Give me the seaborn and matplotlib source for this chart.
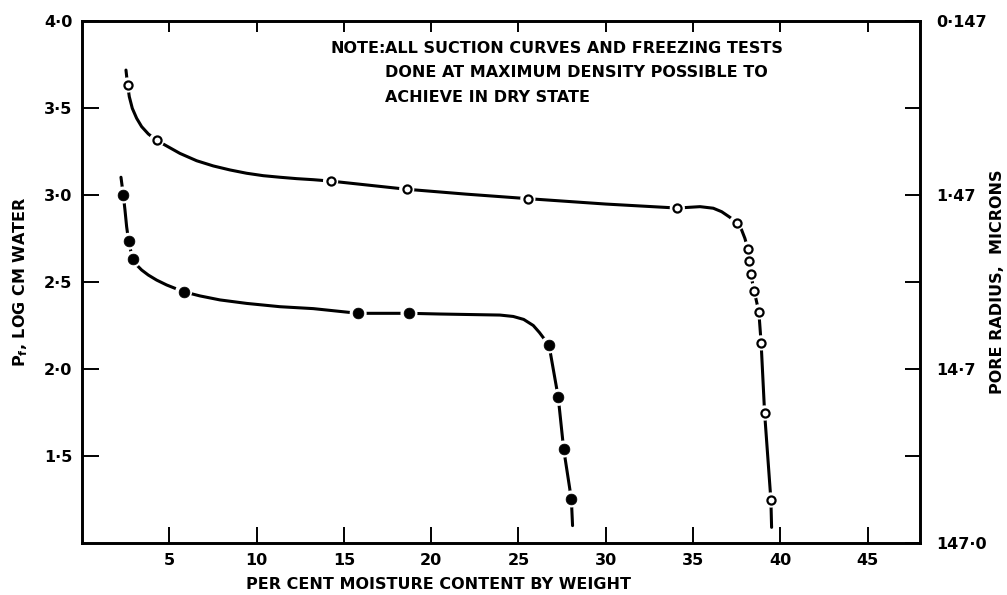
import seaborn as sns
import matplotlib.pyplot as plt
import pandas as pd

# traced curve (open circles, upper)
upper_x = [2.52, 2.615, 2.711, 2.883, 3.131, 3.417, 3.799, 4.277, 4.849, 5.613, 6.567, 7.522, 8.476,
           9.431, 10.386, 11.34, 12.295, 13.249, 14.24, 18.6, 22.0, 25.54, 30.0, 34.1, 35.4, 36.16,
           36.64, 37.11, 37.5, 37.78, 37.97, 38.14, 38.2, 38.3, 38.5, 38.77, 38.9, 39.1, 39.46, 39.5]
upper_y = [3.718, 3.632, 3.565, 3.498, 3.441, 3.393, 3.351, 3.314, 3.282, 3.239, 3.197, 3.167, 3.144,
           3.125, 3.111, 3.102, 3.094, 3.088, 3.08, 3.033, 3.005, 2.979, 2.948, 2.925, 2.933, 2.924,
           2.904, 2.872, 2.84, 2.80, 2.751, 2.69, 2.62, 2.546, 2.45, 2.328, 2.15, 1.747, 1.247, 1.09]
# measured points on upper curve
upper_pts_x = [2.615, 4.277, 14.24, 18.6, 25.54, 34.1, 37.5, 38.14, 38.2, 38.3, 38.5, 38.77, 38.9, 39.1, 39.46]
upper_pts_y = [3.632, 3.314, 3.08, 3.033, 2.979, 2.925, 2.84, 2.69, 2.62, 2.546, 2.45, 2.328, 2.15, 1.747, 1.247]

# traced curve (filled circles, lower)
lower_x = [2.234, 2.367, 2.463, 2.558, 2.673, 2.902, 3.131, 3.417, 3.799, 4.277, 4.849, 5.823, 6.758,
           7.904, 9.431, 11.34, 13.249, 15.82, 18.73, 20.5, 23.94, 24.7, 25.3, 25.85, 26.2, 26.5,
           26.75, 27.28, 27.59, 28.03, 28.1]
lower_y = [3.102, 3.0, 2.914, 2.818, 2.734, 2.63, 2.598, 2.569, 2.54, 2.511, 2.483, 2.444, 2.42,
           2.397, 2.377, 2.358, 2.347, 2.32, 2.32, 2.316, 2.31, 2.302, 2.285, 2.25, 2.21, 2.17,
           2.138, 1.837, 1.54, 1.253, 1.10]
lower_pts_x = [2.367, 2.673, 2.902, 5.823, 15.82, 18.73, 26.75, 27.28, 27.59, 28.03]
lower_pts_y = [3.0, 2.734, 2.63, 2.444, 2.32, 2.32, 2.138, 1.837, 1.54, 1.253]

x_ticks = [5, 10, 15, 20, 25, 30, 35, 40, 45]
y_ticks = [1.5, 2.0, 2.5, 3.0, 3.5, 4.0]
y_labels = ["1·5", "2·0", "2·5", "3·0", "3·5", "4·0"]
r_ticks = [1.0, 1.5, 2.0, 2.5, 3.0, 3.5, 4.0]
r_labels = ["147·0", "", "14·7", "", "1·47", "", "0·147"]

note_lines = ["ALL SUCTION CURVES AND FREEZING TESTS",
              "DONE AT MAXIMUM DENSITY POSSIBLE TO",
              "ACHIEVE IN DRY STATE"]

sns.set_style("ticks")
plt.rcParams["font.family"] = ["DejaVu Sans"]
plt.rcParams["font.weight"] = "bold"
for k in ["text.color", "axes.labelcolor", "xtick.color", "ytick.color", "axes.edgecolor"]:
    plt.rcParams[k] = "black"

fig = plt.figure(figsize=(10.07, 5.95), dpi=100)
ax = fig.add_axes([0.0814, 0.0874, 0.8322, 0.8773])

up = pd.DataFrame({"x": upper_x, "y": upper_y})
lo = pd.DataFrame({"x": lower_x, "y": lower_y})
sns.lineplot(data=up, x="x", y="y", sort=False, estimator=None, color="black", lw=2.2, ax=ax, zorder=2)
sns.lineplot(data=lo, x="x", y="y", sort=False, estimator=None, color="black", lw=2.2, ax=ax, zorder=2)

# white halo breaks the line around each marker
sns.scatterplot(x=upper_pts_x, y=upper_pts_y, s=120, color="white", edgecolor="none", ax=ax, zorder=3)
sns.scatterplot(x=lower_pts_x, y=lower_pts_y, s=150, color="white", edgecolor="none", ax=ax, zorder=3)
sns.scatterplot(x=upper_pts_x, y=upper_pts_y, s=34, color="white", edgecolor="black", linewidth=1.6,
                ax=ax, zorder=4)
sns.scatterplot(x=lower_pts_x, y=lower_pts_y, s=60, color="black", edgecolor="black", linewidth=0.5,
                ax=ax, zorder=4)

ax.set_xlim(0, 48)
ax.set_ylim(1.0, 4.0)
ax.set_xticks(x_ticks)
ax.set_xticklabels([str(t) for t in x_ticks])
ax.set_yticks(y_ticks)
ax.set_yticklabels(y_labels)
for s in ax.spines.values():
    s.set_linewidth(1.9)
    s.set_visible(True)
ax.tick_params(axis="x", direction="in", length=11.5, width=1.4, pad=7, labelsize=11.5, top=False)
ax.tick_params(axis="y", direction="in", length=12, width=1.4, pad=7, labelsize=11.5)

ax2 = ax.twinx()
ax2.set_ylim(1.0, 4.0)
ax2.set_yticks(r_ticks)
ax2.set_yticklabels(r_labels)
ax2.tick_params(axis="y", direction="in", length=11, width=1.4, pad=12, labelsize=11.5)
for s in ax2.spines.values():
    s.set_linewidth(1.9)

# top tick marks (shorter)
axt = ax.secondary_xaxis("top")
axt.set_xticks(x_ticks)
axt.set_xticklabels([])
axt.tick_params(direction="in", length=8, width=1.4)

ax.set_xlabel("PER CENT MOISTURE CONTENT BY WEIGHT", fontsize=11.5, fontweight="bold")
ax.xaxis.set_label_coords(0.426, -0.065)
ax.set_ylabel("P$_\\mathbf{f}$, LOG CM WATER", fontsize=11.5, fontweight="bold", labelpad=10)
ax2.set_ylabel("PORE RADIUS,  MICRONS", fontsize=11.5, fontweight="bold")
ax2.yaxis.set_label_coords(1.0835, 0.5)

ax.text(0.296, 0.948, "NOTE:", transform=ax.transAxes, fontsize=11.5, fontweight="bold", va="center")
for i, line in enumerate(note_lines):
    ax.text(0.3616, 0.948 - i * 0.047, line, transform=ax.transAxes, fontsize=11.5,
            fontweight="bold", va="center")

plt.savefig("out.png", dpi=100)
